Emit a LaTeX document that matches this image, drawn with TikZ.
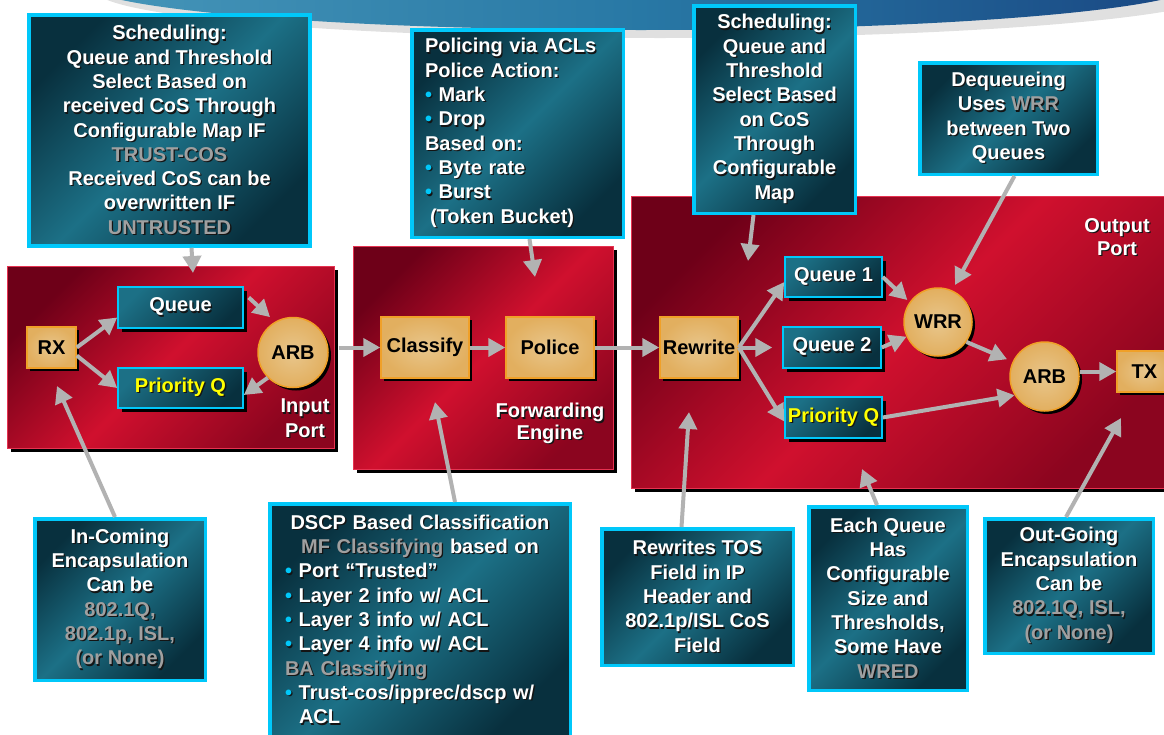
\documentclass[tikz,border=0pt]{standalone}
\usepackage{fontspec}
\setmainfont{Liberation Sans}
\usetikzlibrary{arrows.meta,shadows,calc}

\definecolor{cyb}{RGB}{0,200,250}
\definecolor{tealD}{RGB}{8,48,62}
\definecolor{tealL}{RGB}{28,112,134}
\definecolor{redD}{RGB}{110,0,24}
\definecolor{redL}{RGB}{208,16,46}
\definecolor{redB}{RGB}{230,50,80}
\definecolor{orF}{RGB}{232,198,140}
\definecolor{orO}{RGB}{226,175,95}
\definecolor{orB}{RGB}{240,160,40}
\definecolor{agray}{RGB}{178,178,178}
\definecolor{gtxt}{RGB}{160,160,160}
\definecolor{yel}{RGB}{255,255,0}
\definecolor{shc}{RGB}{20,20,20}
\definecolor{blueL}{RGB}{70,150,185}
\definecolor{blueM}{RGB}{40,120,165}
\definecolor{blueD}{RGB}{25,70,130}

\newcommand\gcol{gtxt}
\newcommand\bcol{cyb}
\newcommand\ycol{yel}
\newcommand\gt[1]{{\color{\gcol}#1}}
\newcommand\bul{{\color{\bcol}\textbullet}}
\newcommand\shd[1]{\leavevmode\rlap{\def\gcol{shc}\def\bcol{shc}\def\ycol{shc}\kern1.3pt\raisebox{-1.3pt}{\color{shc}#1}}#1}

\begin{document}
\begin{tikzpicture}[x=1pt, y=-1pt,
  font=\bfseries\fontsize{20}{24.3}\selectfont,
  every node/.style={inner sep=0pt},
  callout/.style={draw=cyb, line width=3.5pt, left color=tealD, right color=tealD, middle color=tealL, shading angle=45, text=white, align=center},
  redbox/.style={draw=redB, line width=1pt, left color=redD, right color=redD!70!redL, middle color=redL, shading angle=45,
     drop shadow={shadow xshift=4pt, shadow yshift=-4pt, opacity=1, fill=black}},
  qbox/.style={draw=cyb, line width=1.5pt, left color=tealL, right color=tealD, shading angle=45, text=white,
     drop shadow={shadow xshift=4pt, shadow yshift=-4pt, opacity=1, fill=black}},
  obox/.style={draw=orB, line width=1.5pt, inner color=orF, outer color=orO, text=black,
     drop shadow={shadow xshift=3pt, shadow yshift=-3pt, opacity=1, fill=black}},
  ocirc/.style={obox, circle},
  plab/.style={text=white, align=center},
  conn/.style={draw=agray, line width=4pt, -{Triangle[length=17pt,width=18pt]}}
]
\useasboundingbox (0,0) rectangle (1164,734);
\fill[white] (0,0) rectangle (1164,734);

% banner swoosh
\fill[black, opacity=0.12] (660,-10) ellipse [x radius=565, y radius=48];
\shade[left color=blueL, right color=blueD, middle color=blueM] (641,-18) ellipse [x radius=560, y radius=48];

% red areas
\node[redbox, minimum width=327, minimum height=182] (inport) at (170.5,357) {};
\node[redbox, minimum width=260, minimum height=223] (fwd) at (483,357.5) {};
\node[redbox, minimum width=539, minimum height=292] (outport) at (900.5,342) {};

% input port
\node[obox, minimum width=49, minimum height=41] (rx) at (51.5,347.5) {RX};
\node[qbox, minimum width=125, minimum height=41] (inq) at (180.5,307.5) {\shd{Queue}};
\node[qbox, minimum width=125, minimum height=40] (pq) at (180.5,388) {\shd{{\color{\ycol}Priority Q}}};
\node[ocirc, minimum size=70] (arb) at (293,352.5) {ARB};
\node[plab] (inlab) at (305,419) {\shd{Input}\\\shd{Port}};

% forwarding engine
\node[obox, minimum width=88, minimum height=61] (classify) at (425,347.5) {Classify};
\node[obox, minimum width=88, minimum height=61] (police) at (550,347.5) {Police};
\node[plab, font=\bfseries\fontsize{20}{17.5}\selectfont] (fwdlab) at (550,424) {\shd{Forwarding}\\\shd{Engine}};

% output port
\node[obox, minimum width=78, minimum height=61] (rewrite) at (699,347.5) {Rewrite};
\node[qbox, minimum width=97, minimum height=40] (q1) at (833.5,277) {\shd{Queue 1}};
\node[qbox, minimum width=98, minimum height=41] (q2) at (832,347.5) {\shd{Queue 2}};
\node[qbox, minimum width=97, minimum height=41] (pq2) at (833.5,417.5) {\shd{{\color{\ycol}Priority Q}}};
\node[ocirc, minimum size=68] (wrr) at (938,322) {WRR};
\node[ocirc, minimum size=69] (arb2) at (1044.5,376.5) {ARB};
\node[obox, minimum width=55, minimum height=41] (tx) at (1144.5,371.5) {TX};
\node[plab, font=\bfseries\fontsize{20}{23}\selectfont] (outlab) at (1117,237.5) {\shd{Output}\\\shd{Port}};

% callouts
\node[callout, minimum width=281, minimum height=231] (c1) at (169.5,130.5)
 {\shd{Scheduling:}\\\shd{Queue and Threshold}\\\shd{Select Based on}\\\shd{received CoS Through}\\\shd{Configurable Map IF}\\\shd{\gt{TRUST-COS}}\\\shd{Received CoS can be}\\\shd{overwritten IF}\\\shd{\gt{UNTRUSTED}}};
\node[callout, align=left, text width=185pt, inner xsep=13.25pt, minimum height=207.5] (c2) at (517.5,133.5)
 {\shd{Policing via ACLs}\\\shd{Police Action:}\\\shd{\bul\ Mark}\\\shd{\bul\ Drop}\\\shd{Based on:}\\\shd{\bul\ Byte rate}\\\shd{\bul\ Burst}\\\hspace*{5pt}\shd{(Token Bucket)}};
\node[callout, minimum width=161.5, minimum height=207.5] (c3) at (774.5,109.5)
 {\shd{Scheduling:}\\\shd{Queue and}\\\shd{Threshold}\\\shd{Select Based}\\\shd{on CoS}\\\shd{Through}\\\shd{Configurable}\\\shd{Map}};
\node[callout, minimum width=177.5, minimum height=111.5] (c4) at (1008.5,118.5)
 {\shd{Dequeueing}\\\shd{Uses \gt{WRR}}\\\shd{between Two}\\\shd{Queues}};
\node[callout, minimum width=170.5, minimum height=161.5] (c5) at (120,599.5)
 {\shd{In-Coming}\\\shd{Encapsulation}\\\shd{Can be}\\\shd{\gt{802.1Q,}}\\\shd{\gt{802.1p, ISL,}}\\\shd{\gt{(or None)}}};
\node[callout, align=left, text width=270pt, inner xsep=15.25pt, minimum height=232.5] (c6) at (420,620)
 {\makebox[270pt][c]{\shd{DSCP Based Classification}}\\\makebox[270pt][c]{\shd{\gt{MF Classifying} based on}}\\\shd{\bul\ Port “Trusted”}\\\shd{\bul\ Layer 2 info w/ ACL}\\\shd{\bul\ Layer 3 info w/ ACL}\\\shd{\bul\ Layer 4 info w/ ACL}\\\shd{\gt{BA Classifying}}\\\shd{\bul\ Trust-cos/ipprec/dscp w/}\\\hspace*{14pt}\shd{ACL}};
\node[callout, minimum width=191.5, minimum height=136.5] (c7) at (697.5,597)
 {\shd{Rewrites TOS}\\\shd{Field in IP}\\\shd{Header and}\\\shd{802.1p/ISL CoS}\\\shd{Field}};
\node[callout, minimum width=158.5, minimum height=183.5] (c8) at (888,598.5)
 {\shd{Each Queue}\\\shd{Has}\\\shd{Configurable}\\\shd{Size and}\\\shd{Thresholds,}\\\shd{Some Have}\\\shd{\gt{WRED}}};
\node[callout, minimum width=168.5, minimum height=134.5] (c9) at (1069,586)
 {\shd{Out-Going}\\\shd{Encapsulation}\\\shd{Can be}\\\shd{\gt{802.1Q, ISL,}}\\\shd{\gt{(or None)}}};

% arrow targets
\coordinate (t1) at (193,273);
\coordinate (t2) at (535,277);
\coordinate (t3) at (748,261);
\coordinate (t4) at (955,285);
\coordinate (t5) at (57,386);
\coordinate (t6) at (435,402);
\coordinate (t7) at (689,412);
\coordinate (t8) at (862,469);
\coordinate (t9) at (1121,418);

% inner connectors
\draw[conn] (rx.east) -- ([yshift=-10pt]inq.west);
\draw[conn] ([yshift=-8pt]rx.east) -- (pq.west);
\draw[conn] ([xshift=5pt,yshift=10pt]inq.east) -- ([yshift=8pt]arb.130);
\draw[conn] (arb.225) -- ([yshift=-7pt]pq.east);
\draw[conn] ($(inport.east |- classify.west)+(4,0)$) -- (classify.west);
\draw[conn] (classify) -- (police);
\draw[conn] (police) -- (rewrite);
\draw[conn] (rewrite.east) -- ([yshift=-5pt]q1.west);
\draw[conn, shorten >=10pt] (rewrite.east) -- (q2.west);
\draw[conn] (rewrite.east) -- ([yshift=-4pt]pq2.west);
\draw[conn, shorten >=3pt] (q1.east) -- (wrr.145);
\draw[conn] (q2.east) -- (wrr.205);
\draw[conn, shorten >=6pt] (wrr.-35) -- (arb2.155);
\draw[conn] (pq2.east) -- (arb2.212);
\draw[conn] (arb2.east |- tx) -- (tx.west);

% callout connectors
\draw[conn] ([xshift=22pt]c1.south) -- (t1);
\draw[conn] ([xshift=12pt]c2.south) -- (t2);
\draw[conn] ([xshift=-21pt]c3.south) -- (t3);
\draw[conn] ([xshift=6pt]c4.south) -- (t4);
\draw[conn] ([xshift=-5pt]c5.north) -- (t5);
\draw[conn] ([xshift=35pt]c6.north) -- (t6);
\draw[conn] ([xshift=-16pt]c7.north) -- (t7);
\draw[conn] ([xshift=-11pt]c8.north) -- (t8);
\draw[conn] ([xshift=-3pt]c9.north) -- (t9);
\end{tikzpicture}
\end{document}
